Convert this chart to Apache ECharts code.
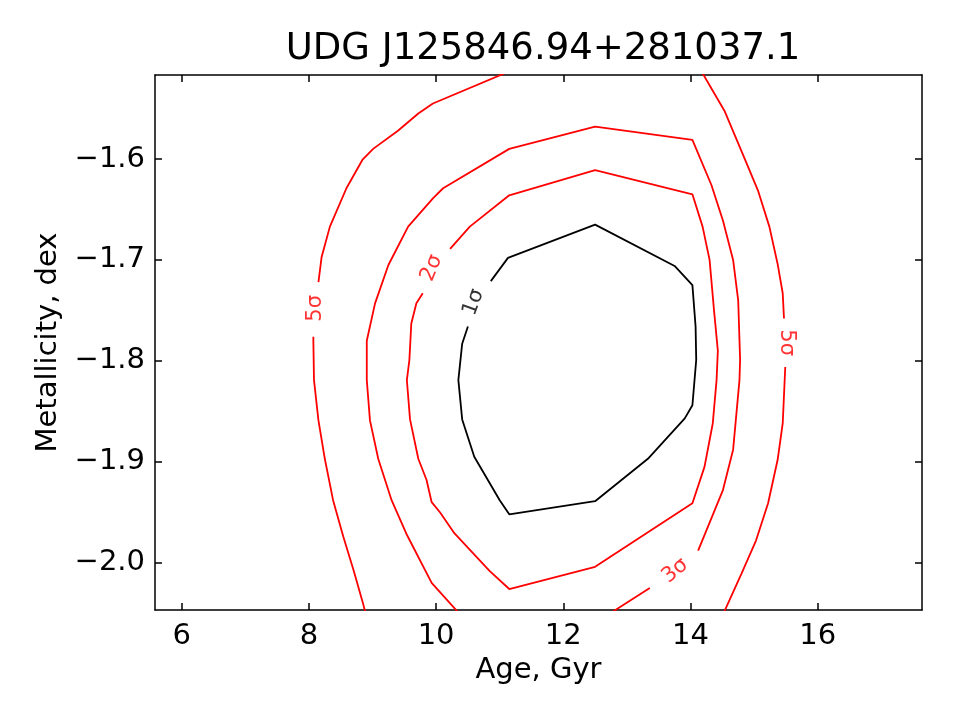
<!DOCTYPE html>
<html>
<head>
<meta charset="utf-8">
<script src="https://cdn.jsdelivr.net/npm/echarts@6/dist/echarts.min.js"></script>
<style>html,body{margin:0;padding:0;background:#fff}#c{width:960px;height:720px}</style>
</head>
<body>
<div id="c"></div>
<script>
var titleText = 'UDG J125846.94+281037.1';
var xName = 'Age, Gyr';
var yName = 'Metallicity, dex';
var xTicks = [6, 8, 10, 12, 14, 16];
var yTicks = [-2.0, -1.9, -1.8, -1.7, -1.6];
var xRange = [5.58, 17.64];
var yRange = [-2.0468, -1.5168];

// contour segments (Age, Metallicity)
var sigma1 = [[10.86,-1.721],[11.13,-1.698],[12.50,-1.665],[13.75,-1.706],[14.03,-1.725],[14.08,-1.766],[14.09,-1.799],[14.03,-1.844],[13.91,-1.857],[13.33,-1.897],[12.50,-1.939],[11.15,-1.952],[11.00,-1.938],[10.60,-1.895],[10.41,-1.858],[10.35,-1.819],[10.41,-1.783],[10.50,-1.766]];
var sigma2 = [[10.22,-1.689],[10.53,-1.667],[11.15,-1.636],[12.50,-1.611],[14.03,-1.635],[14.19,-1.667],[14.30,-1.700],[14.37,-1.750],[14.43,-1.790],[14.41,-1.819],[14.35,-1.862],[14.22,-1.905],[14.03,-1.941],[12.50,-2.004],[11.15,-2.026],[10.84,-2.008],[10.29,-1.971],[10.06,-1.950],[9.93,-1.940],[9.85,-1.918],[9.72,-1.897],[9.59,-1.858],[9.54,-1.819],[9.58,-1.799],[9.61,-1.763],[9.69,-1.743],[9.79,-1.733]];
var sigma3a = [[10.36,-2.050],[9.93,-2.020],[9.53,-1.971],[9.30,-1.938],[9.09,-1.897],[8.96,-1.859],[8.91,-1.819],[8.91,-1.780],[9.04,-1.743],[9.25,-1.705],[9.56,-1.667],[9.95,-1.639],[10.11,-1.629],[11.15,-1.590],[12.50,-1.568],[14.03,-1.581],[14.33,-1.626],[14.51,-1.661],[14.67,-1.700],[14.75,-1.740],[14.78,-1.799],[14.77,-1.819],[14.67,-1.888],[14.51,-1.928],[14.12,-1.988]];
var sigma3b = [[13.36,-2.025],[12.74,-2.050]];
var sigma5La = [[11.12,-1.514],[9.95,-1.545],[9.72,-1.555],[9.40,-1.572],[9.01,-1.590],[8.84,-1.601],[8.59,-1.629],[8.33,-1.667],[8.20,-1.697],[8.15,-1.722]];
var sigma5Lb = [[8.07,-1.776],[8.07,-1.780],[8.08,-1.819],[8.15,-1.859],[8.25,-1.897],[8.38,-1.938],[8.54,-1.974],[8.70,-2.007],[8.85,-2.040],[8.89,-2.050]];
var sigma5Ra = [[14.18,-1.514],[14.54,-1.553],[14.82,-1.595],[15.06,-1.631],[15.24,-1.667],[15.37,-1.704],[15.45,-1.733],[15.47,-1.758]];
var sigma5Rb = [[15.49,-1.806],[15.45,-1.862],[15.37,-1.898],[15.22,-1.941],[15.03,-1.978],[14.80,-2.011],[14.52,-2.050]];

// contour labels: [x, y, text, rotation, colour]
var contourLabels = [
  [8.10, -1.748, '5σ', 90, 'red'],
  [9.93, -1.708, '2σ', 68, 'red'],
  [10.59, -1.742, '1σ', 70, 'black'],
  [15.51, -1.782, '5σ', -90, 'red'],
  [13.76, -2.008, '3σ', 40, 'red']
];

var FONT = 'DejaVu Sans';
function fmt(v){ return String(v.toFixed(v % 1 === 0 && Math.abs(v) > 2.5 ? 0 : 1)).replace('-', '\u2212'); }

var chart = echarts.init(document.getElementById('c'), null, {renderer: 'canvas'});

function lineSeries(data, color) {
  return {
    type: 'line', data: data, showSymbol: false, symbol: 'none', clip: true,
    xAxisIndex: 0, yAxisIndex: 0,
    lineStyle: {color: color, width: 1.8}, animation: false, silent: true, z: 3
  };
}

var series = [
  lineSeries(sigma1, '#000000'),
  lineSeries(sigma2, '#ff0000'),
  lineSeries(sigma3a, '#ff0000'),
  lineSeries(sigma3b, '#ff0000'),
  lineSeries(sigma5La, '#ff0000'),
  lineSeries(sigma5Lb, '#ff0000'),
  lineSeries(sigma5Ra, '#ff0000'),
  lineSeries(sigma5Rb, '#ff0000')
];
contourLabels.forEach(function (c) {
  series.push({
    type: 'scatter', xAxisIndex: 0, yAxisIndex: 0, symbolSize: 1,
    itemStyle: {color: 'rgba(0,0,0,0)'}, animation: false, silent: true, z: 4,
    data: [[c[0], c[1]]],
    label: {show: true, position: 'inside', formatter: c[2], rotate: c[3],
      color: c[4] === 'red' ? '#ff0000' : '#000000', fontSize: 21, fontFamily: FONT}
  });
});

var axisLineStyle = {show: true, onZero: false, lineStyle: {color: '#000', width: 1.5}};
var tickStyle = {show: true, inside: true, length: 7, lineStyle: {color: '#000', width: 1.5}};

chart.setOption({
  animation: false,
  backgroundColor: '#fff',
  title: {text: titleText, left: 538, top: 26, textAlign: 'center',
    textStyle: {fontFamily: FONT, fontSize: 37, fontWeight: 'normal', color: '#000'}},
  grid: {left: 155, right: 38, top: 75, bottom: 110, containLabel: false},
  xAxis: [
    {type: 'value', position: 'bottom', min: xRange[0], max: xRange[1],
     name: xName, nameLocation: 'middle', nameGap: 44,
     nameTextStyle: {fontFamily: FONT, fontSize: 29, color: '#000'},
     axisLine: axisLineStyle,
     axisTick: Object.assign({customValues: xTicks}, tickStyle),
     axisLabel: {customValues: xTicks, formatter: fmt, fontFamily: FONT, fontSize: 29, color: '#000', margin: 12},
     splitLine: {show: false}},
    {type: 'value', position: 'top', min: xRange[0], max: xRange[1],
     axisLine: axisLineStyle,
     axisTick: Object.assign({customValues: xTicks}, tickStyle),
     axisLabel: {show: false}, splitLine: {show: false}}
  ],
  yAxis: [
    {type: 'value', position: 'left', min: yRange[0], max: yRange[1],
     name: yName, nameLocation: 'middle', nameGap: 92, nameRotate: 90,
     nameTextStyle: {fontFamily: FONT, fontSize: 29, color: '#000'},
     axisLine: axisLineStyle,
     axisTick: Object.assign({customValues: yTicks}, tickStyle),
     axisLabel: {customValues: yTicks, formatter: fmt, fontFamily: FONT, fontSize: 29, color: '#000', margin: 10},
     splitLine: {show: false}},
    {type: 'value', position: 'right', min: yRange[0], max: yRange[1],
     axisLine: axisLineStyle,
     axisTick: Object.assign({customValues: yTicks}, tickStyle),
     axisLabel: {show: false}, splitLine: {show: false}}
  ],
  series: series
});
</script>
</body>
</html>
